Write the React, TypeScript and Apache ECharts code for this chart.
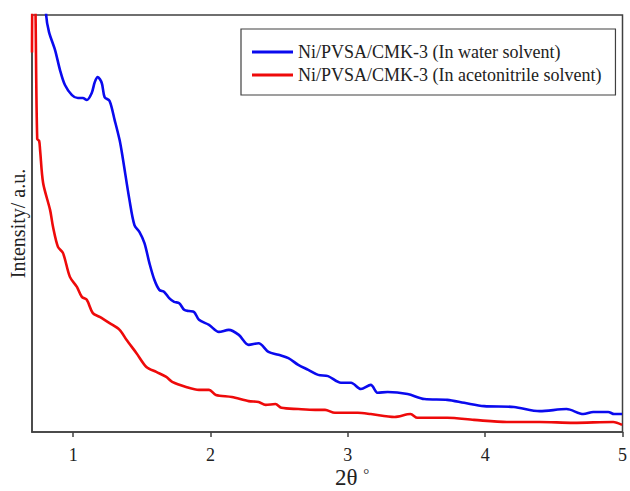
import React, { useEffect, useRef } from "react";
import * as echarts from "echarts";

const seriesNames = [
  "Ni/PVSA/CMK-3 (In water solvent)",
  "Ni/PVSA/CMK-3 (In acetonitrile solvent)",
];

const xTicks = [1, 2, 3, 4, 5];

const waterData: [number, number][] = [
  [0.72, 150], [0.803, 100], [0.824, 95.9], [0.868, 91.6], [0.904, 86.8], [0.94, 83.2],
  [0.991, 80.8], [1.034, 80.1], [1.07, 80.1], [1.099, 79.6], [1.135, 81.3], [1.157, 83.9],
  [1.179, 85.1], [1.208, 83.7], [1.229, 80.3], [1.265, 79.4], [1.302, 74.8], [1.338, 70.0],
  [1.36, 65.9], [1.41, 55.6], [1.446, 49.6], [1.482, 48.0], [1.519, 45.3], [1.555, 40.5],
  [1.591, 36.5], [1.627, 34.1], [1.663, 33.6], [1.699, 32.1], [1.735, 31.2], [1.772, 30.9],
  [1.808, 29.3], [1.844, 29.0], [1.88, 28.8], [1.916, 26.9], [1.989, 25.7], [2.061, 24.0],
  [2.133, 24.5], [2.206, 23.3], [2.278, 20.9], [2.35, 21.3], [2.422, 19.2], [2.495, 18.5],
  [2.567, 17.7], [2.639, 16.1], [2.712, 14.9], [2.784, 13.7], [2.856, 13.4], [2.95, 11.8],
  [3.023, 11.8], [3.095, 10.3], [3.167, 11.3], [3.218, 9.4], [3.29, 9.6], [3.435, 9.1],
  [3.558, 7.9], [3.724, 7.7], [3.847, 7.0], [3.992, 6.2], [4.209, 6.0], [4.397, 5.0],
  [4.592, 5.5], [4.715, 4.3], [4.787, 4.8], [4.896, 4.8], [4.939, 4.3], [4.997, 4.3],
];

const acetonitrileData: [number, number][] = [
  [0.7, 91], [0.708, 118], [0.718, 118], [0.726, 100], [0.738, 70.3], [0.752, 69.8],
  [0.759, 67.6], [0.781, 59.7], [0.832, 53.2], [0.853, 49.2], [0.889, 44.4], [0.926, 42.9],
  [0.976, 37.2], [1.027, 34.8], [1.063, 32.4], [1.099, 31.7], [1.143, 28.5], [1.193, 27.6],
  [1.265, 26.1], [1.338, 24.5], [1.388, 22.1], [1.461, 18.9], [1.533, 15.6], [1.605, 14.4],
  [1.678, 13.2], [1.721, 12.0], [1.822, 10.8], [1.916, 10.1], [1.989, 10.1], [2.039, 8.9],
  [2.155, 8.4], [2.278, 7.4], [2.35, 7.2], [2.401, 6.5], [2.473, 6.7], [2.516, 5.8],
  [2.639, 5.5], [2.762, 5.3], [2.834, 5.3], [2.906, 4.6], [3.072, 4.6], [3.167, 4.3],
  [3.34, 3.6], [3.456, 4.3], [3.507, 3.4], [3.724, 3.4], [3.919, 2.9], [4.158, 2.4],
  [4.397, 2.4], [4.643, 2.2], [4.932, 2.4], [4.997, 1.7],
];

const FONT = "'Liberation Serif', 'Times New Roman', serif";
const AXIS_COLOR = "#404040";

export default function App() {
  const ref = useRef<HTMLDivElement>(null);
  useEffect(() => {
    if (!ref.current) return;
    const chart = echarts.init(ref.current, undefined, { renderer: "svg" });
    chart.setOption({
      animation: false,
      backgroundColor: "#fff",
      grid: {
        left: 32,
        right: 4,
        top: 15,
        bottom: 59,
        show: true,
        borderColor: AXIS_COLOR,
        borderWidth: 1.5,
        backgroundColor: "transparent",
      },
      legend: {
        orient: "vertical",
        left: 241,
        top: 29,
        padding: [14, 14, 11, 11],
        itemGap: 5,
        itemWidth: 41,
        itemHeight: 3,
        itemTextGap: 9,
        icon: "rect",
        borderColor: AXIS_COLOR,
        borderWidth: 1.2,
        textStyle: { fontFamily: FONT, fontSize: 18, color: "#222" },
        data: seriesNames,
      },
      xAxis: {
        type: "value",
        min: 0.7,
        max: 5,
        axisLine: { show: true, lineStyle: { color: AXIS_COLOR, width: 1.5 } },
        axisTick: {
          show: true,
          inside: false,
          length: 5,
          customValues: xTicks,
          lineStyle: { color: AXIS_COLOR, width: 1.5 },
        },
        axisLabel: {
          customValues: xTicks,
          fontFamily: FONT,
          fontSize: 18,
          color: "#222",
          margin: 14,
        },
        splitLine: { show: false },
      },
      yAxis: {
        type: "value",
        min: 0,
        max: 100,
        name: "Intensity/ a.u.",
        nameLocation: "middle",
        nameGap: 4,
        nameRotate: 90,
        nameTextStyle: { fontFamily: FONT, fontSize: 20, color: "#222" },
        axisLine: { show: true, lineStyle: { color: AXIS_COLOR, width: 1.5 } },
        axisTick: { show: false },
        axisLabel: { show: false },
        splitLine: { show: false },
      },
      graphic: [
        {
          type: "text",
          left: 335,
          top: 466,
          style: {
            text: "{a|2θ }{b|°}",
            rich: {
              a: { fontFamily: FONT, fontSize: 23, lineHeight: 23, fill: "#222" },
              b: { fontFamily: FONT, fontSize: 15, lineHeight: 15, fill: "#222", verticalAlign: "top", padding: [0, 0, 8, 0] },
            },
          },
        },
      ],
      series: [
        {
          name: seriesNames[0],
          type: "line",
          data: waterData,
          symbol: "none",
          smooth: 0.3,
          clip: true,
          lineStyle: { color: "#0a0aee", width: 2.6 },
          itemStyle: { color: "#0a0aee" },
        },
        {
          name: seriesNames[1],
          type: "line",
          data: acetonitrileData,
          symbol: "none",
          smooth: 0.3,
          clip: true,
          lineStyle: { color: "#ee0a0a", width: 2.6 },
          itemStyle: { color: "#ee0a0a" },
        },
      ],
    });
    return () => chart.dispose();
  }, []);
  return <div ref={ref} style={{ width: 630, height: 491, position: "absolute", left: 0, top: 0 }} />;
}
